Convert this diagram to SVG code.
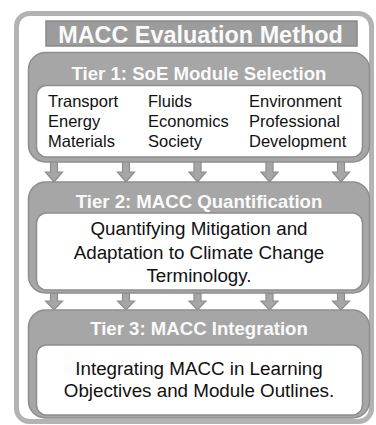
<svg xmlns="http://www.w3.org/2000/svg" width="376" height="425" viewBox="0 0 376 425">
<defs>
<style>
.frame{fill:#fff;stroke:#b3b3b3;stroke-width:5}
.tier{fill:#a6a6a6;stroke:#8e8e8e;stroke-width:1.5}
.inner{fill:#fff;stroke:#8e8e8e;stroke-width:1.5}
.hd{font-family:"Liberation Sans",Arial,sans-serif;font-weight:bold;fill:#fafafa;text-anchor:middle}
.body{font-family:"Liberation Sans",Arial,sans-serif;fill:#111;font-size:16.5px}
.ctr{font-family:"Liberation Sans",Arial,sans-serif;fill:#111;font-size:18.8px;text-anchor:middle}
.arr{fill:#a6a6a6;stroke:#8e8e8e;stroke-width:1.2}
</style>
<path id="a1" d="M-3.5,162 H3.5 V172 H8.5 L0,182 L-8.5,172 H-3.5 Z"/>
<path id="a2" d="M-3.5,293 H3.5 V301 H8.5 L0,310 L-8.5,301 H-3.5 Z"/>
</defs>
<rect class="frame" x="16.5" y="13.5" width="355" height="408" rx="13"/>
<g id="title">
<rect x="46" y="21" width="311" height="25" fill="#9c9c9c" stroke="#888" stroke-width="1.5"/>
<text class="hd" x="200.5" y="43" font-size="23.4">MACC Evaluation Method</text>
</g>
<g id="tier1">
<rect class="tier" x="28.5" y="52.5" width="341" height="109.5" rx="17"/>
<text class="hd" x="199" y="80" font-size="18.6">Tier 1: SoE Module Selection</text>
<rect class="inner" x="36.5" y="85.5" width="326" height="71.5" rx="10"/>
<text class="body" x="48" y="107">Transport</text>
<text class="body" x="48" y="127">Energy</text>
<text class="body" x="48" y="147">Materials</text>
<text class="body" x="148" y="107">Fluids</text>
<text class="body" x="148" y="127">Economics</text>
<text class="body" x="148" y="147">Society</text>
<text class="body" x="249" y="107">Environment</text>
<text class="body" x="249" y="127">Professional</text>
<text class="body" x="249" y="147">Development</text>
</g>
<g id="connectors">
<use href="#a1" class="arr" x="54"/>
<use href="#a1" class="arr" x="126"/>
<use href="#a1" class="arr" x="197.5"/>
<use href="#a1" class="arr" x="269.5"/>
<use href="#a1" class="arr" x="341"/>
<use href="#a2" class="arr" x="54"/>
<use href="#a2" class="arr" x="126"/>
<use href="#a2" class="arr" x="197.5"/>
<use href="#a2" class="arr" x="269.5"/>
<use href="#a2" class="arr" x="341"/>
</g>
<g id="tier2">
<rect class="tier" x="28.5" y="182" width="341" height="111" rx="17"/>
<text class="hd" x="199" y="207.5" font-size="18.6">Tier 2: MACC Quantification</text>
<rect class="inner" x="36.5" y="213" width="326" height="77" rx="10"/>
<text class="ctr" x="199" y="235">Quantifying Mitigation and</text>
<text class="ctr" x="199" y="259">Adaptation to Climate Change</text>
<text class="ctr" x="199" y="282">Terminology.</text>
</g>
<g id="tier3">
<rect class="tier" x="28.5" y="310" width="341" height="108" rx="17"/>
<text class="hd" x="199" y="335" font-size="18.6">Tier 3: MACC Integration</text>
<rect class="inner" x="36.5" y="345" width="326" height="70" rx="10"/>
<text class="ctr" x="199" y="375">Integrating MACC in Learning</text>
<text class="ctr" x="199" y="397">Objectives and Module Outlines.</text>
</g>
</svg>
